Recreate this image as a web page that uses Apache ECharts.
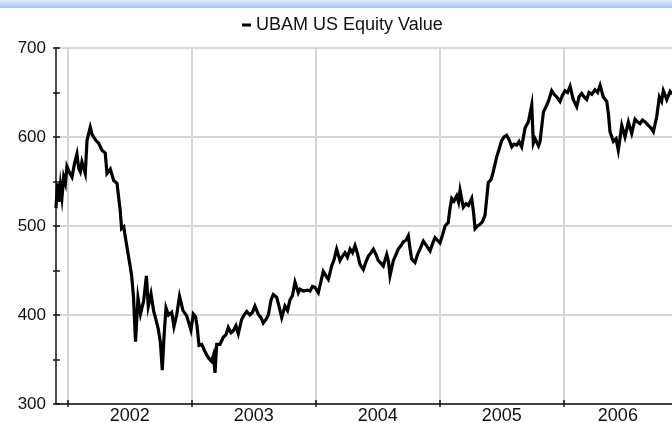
<!DOCTYPE html>
<html>
<head>
<meta charset="utf-8">
<title>UBAM US Equity Value</title>
<script src="https://cdn.jsdelivr.net/npm/echarts@6/dist/echarts.min.js"></script>
<style>
  html, body { margin: 0; padding: 0; background: #fff; }
  #chart { width: 672px; height: 423px; }
</style>
</head>
<body>
<div id="chart"></div>
<script>
"use strict";

// series name shown in the legend
var seriesName = 'UBAM US Equity Value';

// reading times, as decimal years
var years = [
  2001.906, 2001.918, 2001.930, 2001.942, 2001.954, 2001.968, 2001.982, 2001.994,
  2002.015, 2002.035, 2002.055, 2002.075, 2002.089, 2002.102, 2002.115, 2002.129,
  2002.142, 2002.156, 2002.182, 2002.196, 2002.210, 2002.228, 2002.250, 2002.277,
  2002.303, 2002.317, 2002.344, 2002.371, 2002.398, 2002.424, 2002.435, 2002.452,
  2002.476, 2002.505, 2002.516, 2002.531, 2002.547, 2002.567, 2002.587, 2002.613,
  2002.635, 2002.650, 2002.672, 2002.694, 2002.708, 2002.731, 2002.748, 2002.763,
  2002.777, 2002.793, 2002.813, 2002.839, 2002.857, 2002.879, 2002.902, 2002.930,
  2002.960, 2002.974, 2002.994, 2003.013, 2003.031, 2003.043, 2003.059, 2003.081,
  2003.107, 2003.134, 2003.161, 2003.176, 2003.188, 2003.202, 2003.228, 2003.255,
  2003.277, 2003.295, 2003.317, 2003.335, 2003.357, 2003.376, 2003.403, 2003.422,
  2003.444, 2003.470, 2003.490, 2003.510, 2003.537, 2003.559, 2003.577, 2003.599,
  2003.618, 2003.640, 2003.658, 2003.685, 2003.704, 2003.726, 2003.752, 2003.773,
  2003.793, 2003.813, 2003.833, 2003.860, 2003.873, 2003.900, 2003.914, 2003.934,
  2003.954, 2003.974, 2003.994, 2004.021, 2004.043, 2004.061, 2004.083, 2004.102,
  2004.129, 2004.148, 2004.169, 2004.196, 2004.216, 2004.236, 2004.256, 2004.277,
  2004.297, 2004.317, 2004.337, 2004.357, 2004.384, 2004.406, 2004.424, 2004.446,
  2004.465, 2004.486, 2004.505, 2004.527, 2004.545, 2004.573, 2004.587, 2004.599,
  2004.626, 2004.648, 2004.666, 2004.688, 2004.706, 2004.728, 2004.747, 2004.760,
  2004.774, 2004.801, 2004.821, 2004.841, 2004.868, 2004.881, 2004.902, 2004.922,
  2004.942, 2004.962, 2004.982, 2005.002, 2005.023, 2005.043, 2005.069, 2005.083,
  2005.097, 2005.115, 2005.137, 2005.152, 2005.164, 2005.190, 2005.212, 2005.231,
  2005.258, 2005.273, 2005.285, 2005.305, 2005.325, 2005.345, 2005.365, 2005.392,
  2005.414, 2005.432, 2005.460, 2005.478, 2005.500, 2005.519, 2005.540, 2005.559,
  2005.581, 2005.599, 2005.621, 2005.640, 2005.661, 2005.688, 2005.715, 2005.742,
  2005.755, 2005.769, 2005.782, 2005.797, 2005.809, 2005.836, 2005.857, 2005.876,
  2005.903, 2005.922, 2005.944, 2005.970, 2005.990, 2006.010, 2006.031, 2006.051,
  2006.077, 2006.105, 2006.123, 2006.145, 2006.164, 2006.185, 2006.204, 2006.226,
  2006.252, 2006.273, 2006.293, 2006.319, 2006.347, 2006.361, 2006.373, 2006.400,
  2006.422, 2006.440, 2006.468, 2006.494, 2006.521, 2006.548, 2006.575, 2006.595,
  2006.615, 2006.635, 2006.656, 2006.682, 2006.704, 2006.723, 2006.750, 2006.771,
  2006.789, 2006.803, 2006.831, 2006.857, 2006.873
];

// equity value at each reading
var values = [
  520, 548, 527, 546, 532, 555, 548, 567,
  560, 555, 570, 581, 565, 561, 572, 565,
  559, 596, 611, 603, 600, 596, 593, 585,
  582, 559, 564, 551, 548, 517, 497, 499,
  478, 454, 444, 420, 370, 419, 401, 416,
  444, 410, 424, 404, 397, 384, 369, 338,
  376, 408, 400, 403, 387, 400, 421, 405,
  399, 397, 383, 401, 398, 388, 366, 367,
  359, 352, 348, 355, 335, 367, 367, 375,
  378, 386, 380, 382, 388, 379, 395, 400,
  404, 400, 403, 410, 401, 397, 391, 395,
  400, 417, 423, 420, 410, 397, 410, 405,
  417, 422, 437, 425, 429, 427, 425, 428,
  427, 432, 431, 425, 438, 449, 444, 440,
  455, 462, 474, 461, 466, 470, 465, 474,
  470, 478, 469, 457, 451, 460, 466, 470,
  474, 468, 461, 458, 455, 468, 460, 444,
  461, 468, 474, 478, 482, 484, 489, 475,
  463, 459, 468, 474, 483, 481, 476, 472,
  480, 487, 484, 481, 490, 500, 504, 520,
  531, 528, 534, 527, 540, 521, 525, 523,
  531, 515, 497, 500, 502, 505, 512, 549,
  552, 561, 578, 586, 596, 600, 602, 597,
  589, 592, 591, 595, 589, 610, 617, 636,
  593, 598, 596, 590, 595, 628, 634, 640,
  652, 648, 645, 640, 647, 652, 650, 657,
  642, 634, 645, 649, 645, 642, 650, 648,
  653, 650, 658, 645, 640, 625, 606, 595,
  598, 585, 613, 600, 617, 604, 620, 617,
  615, 619, 617, 613, 610, 606, 623, 645,
  640, 652, 642, 651, 648
];

// year boundaries (gridlines) and year labels
var yearStarts = [2002, 2003, 2004, 2005, 2006];
var yearLabels = [2002, 2003, 2004, 2005, 2006];

// value axis range
var yMin = 300, yMax = 700, yStep = 100;

var fontFamily = '"Liberation Sans", Arial, sans-serif';

initializeChart();

/**
 * build the option and draw the chart
 */
function initializeChart() {
  var dom = document.getElementById('chart');
  var chart = echarts.init(dom, null, { renderer: 'canvas' });
  var xMin = years[0], xMax = years[years.length - 1];

  // each label sits in the middle of the visible part of its year
  var labelPositions = yearLabels.map(function (y) {
    return (Math.max(y, xMin) + Math.min(y + 1, xMax)) / 2;
  });

  var points = years.map(function (t, i) {
    return [t, values[i]];
  });

  var option = {
    animation: false,
    backgroundColor: '#fff',
    textStyle: { fontFamily: fontFamily },
    graphic: [
      {
        type: 'rect',
        shape: { x: 0, y: 0, width: 672, height: 8 },
        style: {
          fill: new echarts.graphic.LinearGradient(0, 0, 0, 1, [
            { offset: 0, color: '#e4e8ee' },
            { offset: 0.4, color: '#c9dcf3' },
            { offset: 1, color: '#9fc3ee' }
          ])
        },
        silent: true
      }
    ],
    legend: {
      left: 237,
      top: 11,
      icon: 'rect',
      itemWidth: 9,
      itemHeight: 3,
      itemGap: 10,
      textStyle: { color: '#111', fontSize: 18, fontFamily: fontFamily },
      data: [{ name: seriesName, itemStyle: { color: '#000' } }]
    },
    grid: {
      left: 56,
      right: 0,
      top: 48,
      bottom: 19,
      containLabel: false,
      outerBoundsMode: 'none'
    },
    xAxis: [
      {
        type: 'value',
        min: xMin,
        max: xMax,
        position: 'bottom',
        axisLine: { show: true, lineStyle: { color: '#111', width: 1.5 } },
        axisTick: {
          show: true,
          customValues: yearStarts,
          length: 3,
          lineStyle: { color: '#111', width: 1.5 }
        },
        axisLabel: {
          customValues: labelPositions,
          margin: 3,
          color: '#111',
          fontSize: 18,
          fontFamily: fontFamily,
          formatter: function (v) {
            return String(Math.floor(v + 1e-6));
          }
        },
        splitLine: { show: true, lineStyle: { color: '#d6d6d6', width: 2 } }
      },
      {
        // inner half of the crossing ticks
        type: 'value',
        min: xMin,
        max: xMax,
        position: 'bottom',
        axisLine: { show: false },
        axisTick: {
          show: true,
          inside: true,
          customValues: yearStarts,
          length: 4,
          lineStyle: { color: '#111', width: 1.5 }
        },
        axisLabel: { show: false },
        splitLine: { show: false }
      }
    ],
    yAxis: [
      {
        type: 'value',
        min: yMin,
        max: yMax,
        interval: yStep,
        position: 'left',
        axisLine: { show: true, lineStyle: { color: '#111', width: 1.5 } },
        axisTick: { show: true, length: 3, lineStyle: { color: '#111', width: 1.5 } },
        minorTick: { show: true, splitNumber: 2, length: 3, lineStyle: { color: '#111', width: 1.5 } },
        axisLabel: { margin: 10, color: '#111', fontSize: 17, fontFamily: fontFamily },
        splitLine: { show: true, lineStyle: { color: '#d6d6d6', width: 2 } }
      },
      {
        // inner half of the crossing ticks
        type: 'value',
        min: yMin,
        max: yMax,
        interval: yStep,
        position: 'left',
        axisLine: { show: false },
        axisTick: { show: true, inside: true, length: 4, lineStyle: { color: '#111', width: 1.5 } },
        minorTick: { show: true, splitNumber: 2, length: 4, lineStyle: { color: '#111', width: 1.5 } },
        axisLabel: { show: false },
        splitLine: { show: false }
      }
    ],
    series: [
      {
        name: seriesName,
        type: 'line',
        xAxisIndex: 0,
        yAxisIndex: 0,
        data: points,
        showSymbol: false,
        symbol: 'none',
        lineStyle: { color: '#000', width: 3.2, join: 'miter' },
        itemStyle: { color: '#000' },
        z: 3
      }
    ]
  };

  chart.setOption(option);

  window.addEventListener('resize', function () {
    chart.resize();
  });
}
</script>
</body>
</html>
